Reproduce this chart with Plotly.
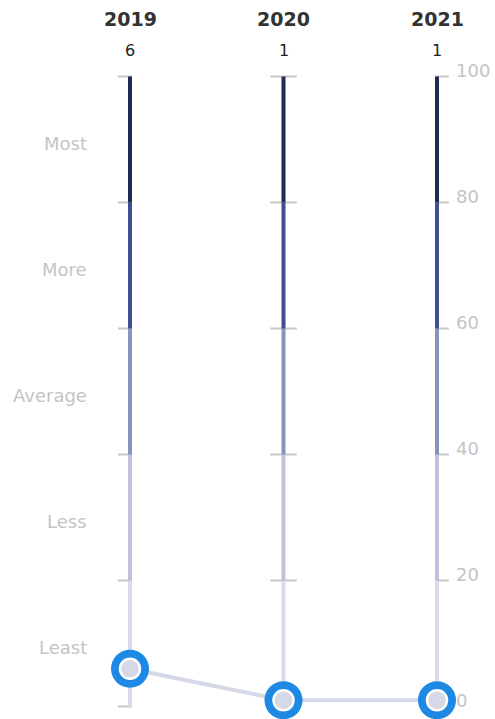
import plotly.graph_objects as go

years = ["2019", "2020", "2021"]
values = [6, 1, 1]
band_edges = [0, 20, 40, 60, 80, 100]
band_colors = ["#d8dbea", "#bec3db", "#8893c0", "#3e5092", "#1e2b57"]
level_labels = ["Least", "Less", "Average", "More", "Most"]
tick_vals = [0, 20, 40, 60, 80, 100]
tick_text = ["0", "20", "40", "60", "80", "100"]

FONT = "DejaVu Sans"
px_per_x = 153.5
xs = list(range(len(years)))

fig = go.Figure()

# tick marks
for i in xs:
    if i == 0:
        tx = [i - 5 / px_per_x] * len(tick_vals)
        size = 10
    elif i == len(xs) - 1:
        tx = [i + 5 / px_per_x] * len(tick_vals)
        size = 10
    else:
        tx = [i] * len(tick_vals)
        size = 19
    fig.add_trace(go.Scatter(
        x=tx, y=tick_vals, mode="markers",
        marker=dict(symbol="line-ew", size=size, line=dict(color="#c8c8c8", width=2)),
        hoverinfo="skip", showlegend=False))

# axis bands
for i in xs:
    for k in range(len(band_colors)):
        fig.add_trace(go.Scatter(
            x=[i, i], y=[band_edges[k], band_edges[k + 1]], mode="lines",
            line=dict(color=band_colors[k], width=4),
            hoverinfo="skip", showlegend=False))

# data line
fig.add_trace(go.Scatter(
    x=xs, y=values, mode="lines",
    line=dict(color="#d5d8e6", width=4), hoverinfo="skip", showlegend=False))
fig.add_trace(go.Scatter(
    x=xs, y=values, mode="markers",
    marker=dict(size=38, color="#1e88e5"), hoverinfo="skip", showlegend=False))
fig.add_trace(go.Scatter(
    x=xs, y=values, mode="markers",
    marker=dict(size=20, color="#d5d8e6", line=dict(color="white", width=2.5)),
    showlegend=False))

annotations = []
for i, (yr, v) in enumerate(zip(years, values)):
    annotations.append(dict(x=i, y=1, xref="x", yref="paper", yanchor="middle",
                            yshift=-19, text="<b>" + yr + "</b>", showarrow=False,
                            font=dict(family=FONT, size=19, color="#333333")))
    annotations.append(dict(x=i, y=1, xref="x", yref="paper", yanchor="middle",
                            yshift=-50, text=str(v), showarrow=False,
                            font=dict(family=FONT, size=16, color="#222222")))

for k, lab in enumerate(level_labels):
    mid = (band_edges[k] + band_edges[k + 1]) / 2
    annotations.append(dict(x=0, y=mid, xref="x", yref="y", xanchor="right",
                            xshift=-41, yshift=-4, text=lab, showarrow=False,
                            font=dict(family=FONT, size=18, color="#c4c4c4")))

for tv, tt in zip(tick_vals, tick_text):
    annotations.append(dict(x=len(xs) - 1, y=tv, xref="x", yref="y", xanchor="left",
                            xshift=17, yshift=6, text=tt, showarrow=False,
                            font=dict(family=FONT, size=18, color="#c4c4c4")))

fig.update_layout(
    width=495, height=719,
    margin=dict(l=0, r=0, t=0, b=0),
    paper_bgcolor="white", plot_bgcolor="white",
    xaxis=dict(range=[-130 / px_per_x, (495 - 130) / px_per_x], visible=False, fixedrange=True),
    yaxis=dict(range=[-(719 - 706.5) / 6.3, 100 + 76.5 / 6.3], visible=False, fixedrange=True),
    annotations=annotations,
    showlegend=False,
    hovermode=False,
)

fig.write_html("out.html", config={"displayModeBar": False},
               post_script="document.body.style.margin='0';")
